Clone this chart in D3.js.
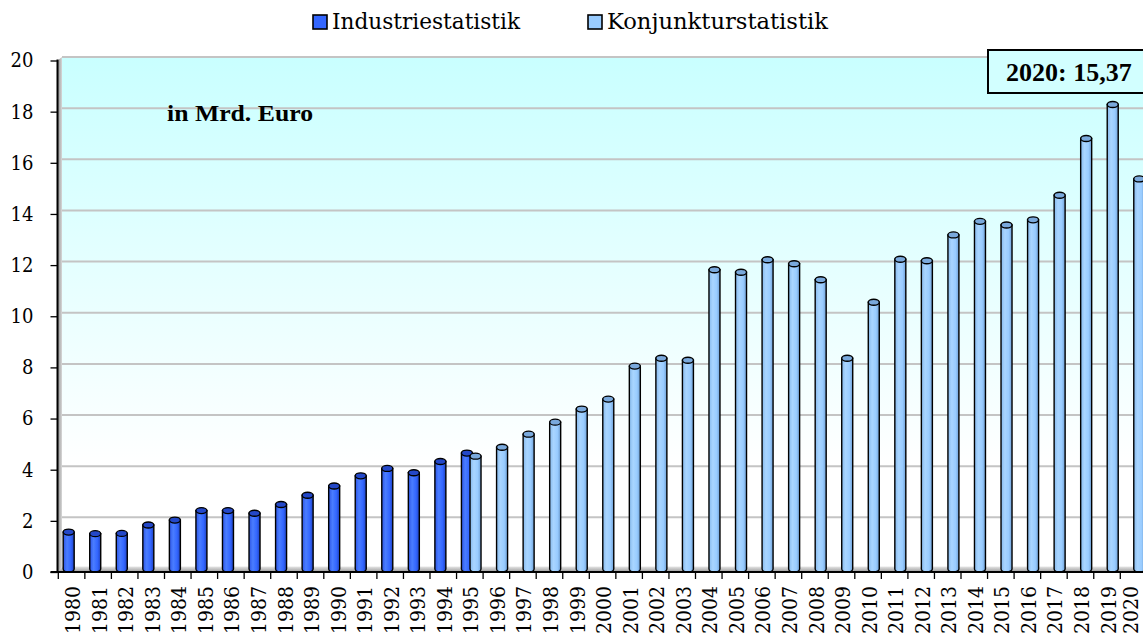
<!DOCTYPE html>
<html>
<head>
<meta charset="utf-8">
<script src="https://cdn.jsdelivr.net/npm/d3@7"></script>
<style>
  html, body { margin: 0; padding: 0; background: #fff; }
  svg { display: block; }
  svg text { fill: #000; }
</style>
</head>
<body>
<svg id="chart" width="1143" height="635"></svg>
<script>
// ---------- data ----------
const years = ["1980","1981","1982","1983","1984","1985","1986","1987","1988","1989",
  "1990","1991","1992","1993","1994","1995","1996","1997","1998","1999",
  "2000","2001","2002","2003","2004","2005","2006","2007","2008","2009",
  "2010","2011","2012","2013","2014","2015","2016","2017","2018","2019","2020"];
const industrieYears = ["1980","1981","1982","1983","1984","1985","1986","1987","1988","1989",
  "1990","1991","1992","1993","1994","1995"];
const industrieValues = [1.56,1.50,1.51,1.84,2.03,2.40,2.40,2.30,2.64,3.00,
  3.36,3.76,4.05,3.88,4.32,4.65];
const konjunkturYears = ["1995","1996","1997","1998","1999","2000","2001","2002","2003","2004",
  "2005","2006","2007","2008","2009","2010","2011","2012","2013","2014",
  "2015","2016","2017","2018","2019","2020"];
const konjunkturValues = [4.53,4.88,5.39,5.86,6.37,6.76,8.05,8.36,8.28,11.82,
  11.72,12.21,12.05,11.43,8.36,10.55,12.23,12.17,13.18,13.71,
  13.57,13.77,14.73,16.95,18.28,15.37];
const yTicks = [0,2,4,6,8,10,12,14,16,18,20];
const seriesNames = ["Industriestatistik","Konjunkturstatistik"];
const unitLabel = "in Mrd. Euro";
const calloutLabel = "2020: 15,37";

// ---------- layout ----------
const FONT = "'DejaVu Serif Condensed', 'DejaVu Serif', serif";
const BFONT = "'Liberation Serif', 'DejaVu Serif', serif";
const svg = d3.select("#chart");
const W = 1143, H = 635;
const axisX = 57.5, floorY = 572;
const depthX = 4.5, depthY = 3.5;

const x = d3.scaleBand().domain(years).range([58.3, 58.3 + 41 * 26.55]).paddingInner(0).paddingOuter(0);
const y = d3.scaleLinear().domain([0, 20]).range([floorY, 60.5]);

const defs = svg.append("defs");
const bg = defs.append("linearGradient").attr("id", "bg").attr("x1", 0).attr("y1", 0).attr("x2", 0).attr("y2", 1);
bg.append("stop").attr("offset", 0).attr("stop-color", "#c9ffff");
bg.append("stop").attr("offset", 0.8).attr("stop-color", "#ffffff");
bg.append("stop").attr("offset", 1).attr("stop-color", "#ffffff");

const floorG = defs.append("linearGradient").attr("id", "floorG").attr("x1", 0).attr("y1", 0).attr("x2", 0).attr("y2", 1);
floorG.append("stop").attr("offset", 0).attr("stop-color", "#e6e6e6");
floorG.append("stop").attr("offset", 1).attr("stop-color", "#9a9a9a");

const wallG = defs.append("linearGradient").attr("id", "wallG").attr("x1", 0).attr("y1", 0).attr("x2", 1).attr("y2", 0);
wallG.append("stop").attr("offset", 0).attr("stop-color", "#8c8c8c");
wallG.append("stop").attr("offset", 1).attr("stop-color", "#d8d8d8");

function cylGrad(id, c0, c1, c2, c3) {
  const g = defs.append("linearGradient").attr("id", id).attr("x1", 0).attr("y1", 0).attr("x2", 1).attr("y2", 0);
  g.append("stop").attr("offset", 0).attr("stop-color", c0);
  g.append("stop").attr("offset", 0.35).attr("stop-color", c1);
  g.append("stop").attr("offset", 0.7).attr("stop-color", c2);
  g.append("stop").attr("offset", 1).attr("stop-color", c3);
}
cylGrad("gInd", "#2d55e6", "#4a7dff", "#3366ff", "#1f42c0");
cylGrad("gKon", "#86b9ec", "#a9d5ff", "#99ccff", "#6f9fd4");

// back wall
const wallTop = y(20) - depthY;
svg.append("rect")
  .attr("x", axisX + depthX).attr("y", wallTop)
  .attr("width", W - axisX - depthX).attr("height", floorY - depthY - wallTop)
  .attr("fill", "url(#bg)");

// gridlines on back wall
svg.append("g").selectAll("line").data(yTicks).join("line")
  .attr("x1", axisX + depthX).attr("x2", W)
  .attr("y1", d => y(d) - depthY).attr("y2", d => y(d) - depthY)
  .attr("stroke", "#c4c4c4").attr("stroke-width", 2);

// left wall (3D side)
svg.append("path")
  .attr("d", `M${axisX},${y(20)} L${axisX + depthX},${wallTop} L${axisX + depthX},${floorY - depthY} L${axisX},${floorY} Z`)
  .attr("fill", "url(#wallG)");

// floor
svg.append("path")
  .attr("d", `M${axisX},${floorY} L${axisX + depthX},${floorY - depthY - 2} L${W},${floorY - depthY - 2} L${W},${floorY} Z`)
  .attr("fill", "url(#floorG)");

// ---------- bars ----------
const bw = 11, ry = 3;
const barOffset = 1.4, seriesShift = 4.3;
function cx(year, shift) { return x(year) + x.bandwidth() / 2 + barOffset + shift; }
function cylPath(c, top, bottom) {
  const l = c - bw / 2, r = c + bw / 2;
  return `M${l},${top} L${l},${bottom} A${bw / 2},${ry} 0 0 0 ${r},${bottom} L${r},${top} Z`;
}
function drawSeries(yrs, vals, shift, grad, topFill) {
  const data = yrs.map((d, i) => ({ year: d, value: vals[i] }));
  const g = svg.append("g");
  g.selectAll("path").data(data).join("path")
    .attr("d", d => cylPath(cx(d.year, shift), y(d.value), floorY - 3))
    .attr("fill", `url(#${grad})`).attr("stroke", "#000").attr("stroke-width", 1.4);
  g.selectAll("ellipse").data(data).join("ellipse")
    .attr("cx", d => cx(d.year, shift)).attr("cy", d => y(d.value))
    .attr("rx", bw / 2).attr("ry", ry)
    .attr("fill", topFill).attr("stroke", "#000").attr("stroke-width", 1.4);
}
drawSeries(industrieYears, industrieValues, -seriesShift, "gInd", "#2448c8");
drawSeries(konjunkturYears, konjunkturValues, seriesShift, "gKon", "#7aa9dc");

// ---------- axes ----------
svg.append("line").attr("x1", axisX).attr("x2", axisX).attr("y1", y(20) - 1).attr("y2", floorY + 1)
  .attr("stroke", "#000").attr("stroke-width", 2);
svg.append("line").attr("x1", axisX - 7).attr("x2", W).attr("y1", floorY).attr("y2", floorY)
  .attr("stroke", "#000").attr("stroke-width", 2);

const yAxis = svg.append("g").attr("transform", `translate(${axisX},0)`)
  .call(d3.axisLeft(y).tickValues(yTicks).tickSize(7).tickPadding(17).tickFormat(d3.format("d")));
yAxis.attr("font-family", FONT).attr("font-size", 20);
yAxis.select(".domain").remove();
yAxis.selectAll(".tick line").attr("stroke", "#000").attr("stroke-width", 1.3);
yAxis.selectAll(".tick text").style("font-family", FONT).style("font-size", "20px").attr("fill", "#000");

const xBounds = years.map(d => x(d)).concat([x(years[years.length - 1]) + x.bandwidth()]);
svg.append("g").selectAll("line").data(xBounds).join("line")
  .attr("x1", d => d).attr("x2", d => d).attr("y1", floorY).attr("y2", floorY + 7)
  .attr("stroke", "#000").attr("stroke-width", 1.3);

svg.append("g").selectAll("text").data(years).join("text")
  .attr("transform", d => `translate(${Math.min(x(d) + x.bandwidth() / 2 + 1, 1130)},586) rotate(-90)`)
  .attr("text-anchor", "end").attr("dy", "0.36em")
  .style("font-family", FONT).style("font-size", "21px")
  .text(d => d);

// ---------- legend ----------
const legendItems = [
  { name: seriesNames[0], color: "#3366ff", sx: 313, tx: 332, len: 188 },
  { name: seriesNames[1], color: "#99ccff", sx: 588, tx: 607, len: 221 }
];
const lg = svg.append("g");
lg.selectAll("rect").data(legendItems).join("rect")
  .attr("x", d => d.sx).attr("y", 15).attr("width", 14).attr("height", 14)
  .attr("fill", d => d.color).attr("stroke", "#000").attr("stroke-width", 1.6);
lg.selectAll("text").data(legendItems).join("text")
  .attr("x", d => d.tx).attr("y", 29)
  .attr("textLength", d => d.len).attr("lengthAdjust", "spacingAndGlyphs")
  .style("font-family", FONT).style("font-size", "22px")
  .text(d => d.name);

svg.append("text").attr("x", 167).attr("y", 121)
  .attr("textLength", 146).attr("lengthAdjust", "spacingAndGlyphs")
  .style("font-family", BFONT).style("font-size", "23px").style("font-weight", "bold")
  .text(unitLabel);

svg.append("rect").attr("x", 988).attr("y", 50).attr("width", 170).attr("height", 43)
  .attr("fill", "#d2ffff").attr("stroke", "#000").attr("stroke-width", 2);
svg.append("text").attr("x", 1006).attr("y", 81)
  .style("font-family", BFONT).style("font-size", "26px").style("font-weight", "bold")
  .text(calloutLabel);
</script>
</body>
</html>
